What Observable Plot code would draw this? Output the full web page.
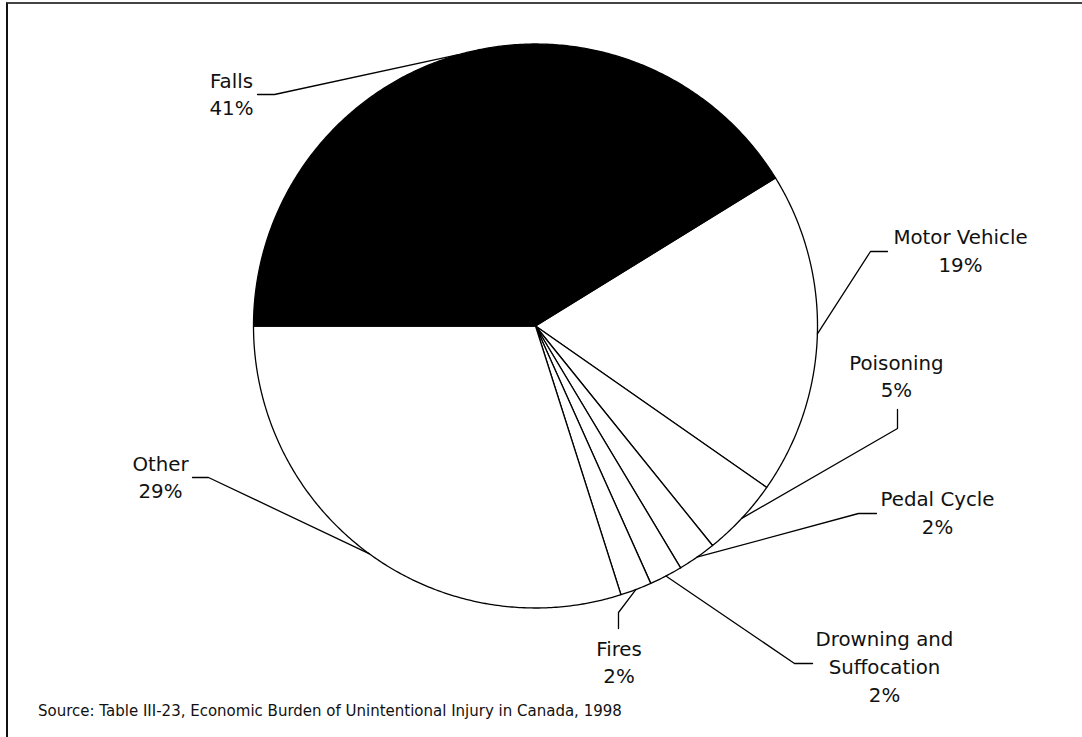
<!DOCTYPE html>
<html>
<head>
<meta charset="utf-8">
<script src="https://cdn.jsdelivr.net/npm/d3@7"></script>
<script src="https://cdn.jsdelivr.net/npm/@observablehq/plot@0.6"></script>
<style>
  html, body { margin: 0; padding: 0; background: #fff; }
  #wrap { position: relative; width: 1082px; height: 737px; overflow: hidden; background: #fff; }
  #chart { position: absolute; left: 0; top: 0; }
  #frame { position: absolute; left: 6px; top: 2px; width: 1100px; height: 760px; border-top: 2px solid #444; border-left: 2px solid #111; box-sizing: border-box; pointer-events: none; }
  #caption { position: absolute; left: 38px; top: 704px; font-family: "DejaVu Sans", Verdana, sans-serif; font-size: 15px; line-height: 1; color: #111; white-space: nowrap; }
</style>
</head>
<body>
<div id="wrap">
  <div id="chart"></div>
  <div id="frame"></div>
  <div id="caption">Source: Table III-23, Economic Burden of Unintentional Injury in Canada, 1998</div>
</div>
<script>
// ---- data ----
const categories = ["Falls", "Motor Vehicle", "Poisoning", "Pedal Cycle", "Drowning and\nSuffocation", "Fires", "Other"];
const shares = [41.2, 18.5, 4.5, 2.2, 1.9, 1.8, 29.9];
const percentLabels = ["41%", "19%", "5%", "2%", "2%", "2%", "29%"];

// ---- styles / layout (kept apart from data) ----
const sliceFills = ["black", "white", "white", "white", "white", "white", "white"];
// label anchor (center x, last baseline) in pie-radius units
const labelAt = [[-1.078, 0.7465], [1.507, 0.190], [1.280, -0.2535], [1.4255, -0.739], [1.2376, -1.3316], [0.2961, -1.2677], [-1.3298, -0.6117]];
// leader line start and elbow in pie-radius units
const leaderFrom = [[-0.9858, 0.8209], [1.2482, 0.2642], [1.2837, -0.2961], [1.2092, -0.6649], [0.9823, -1.1968], [0.2943, -1.0727], [-1.2163, -0.5372]];
const leaderElbow = [[-0.9255, 0.8209], [1.1879, 0.2642], [1.2837, -0.3635], [1.1454, -0.6649], [0.9184, -1.1968], [0.2943, -1.0160], [-1.1596, -0.5372]];

const rows = categories.map((name, i) => ({name, share: shares[i], pct: percentLabels[i], fill: sliceFills[i], i}));

const pie = d3.pie().sort(null).value(d => d.share).startAngle(-Math.PI / 2).endAngle(1.5 * Math.PI);
const arcs = pie(rows);

const polys = [];
const leaders = [];
const labels = [];
for (const a of arcs) {
  const d = a.data;
  const n = Math.max(2, Math.ceil((a.endAngle - a.startAngle) / (Math.PI / 360)));
  polys.push({name: d.name, fill: d.fill, x: 0, y: 0});
  for (let k = 0; k <= n; k++) {
    const t = a.startAngle + (a.endAngle - a.startAngle) * k / n;
    polys.push({name: d.name, fill: d.fill, x: Math.sin(t), y: Math.cos(t)});
  }
  const mid = (a.startAngle + a.endAngle) / 2;
  leaders.push({name: d.name, x: leaderFrom[d.i][0], y: leaderFrom[d.i][1]});
  leaders.push({name: d.name, x: leaderElbow[d.i][0], y: leaderElbow[d.i][1]});
  leaders.push({name: d.name, x: Math.sin(mid), y: Math.cos(mid)});
  labels.push({text: d.name + "\n" + d.pct, x: labelAt[d.i][0], y: labelAt[d.i][1]});
}

const chart = Plot.plot({
  width: 1082,
  height: 737,
  margin: 0,
  style: {background: "transparent", fontFamily: "'DejaVu Sans', Verdana, sans-serif", fontSize: "19.8px", color: "#111"},
  x: {domain: [-1, 1], range: [253, 817], axis: null},
  y: {domain: [-1, 1], range: [607.5, 43.5], axis: null},
  marks: [
    Plot.line(polys.filter(p => p.fill === "white"), {x: "x", y: "y", z: "name", fill: "white", stroke: "black", strokeWidth: 1.3, curve: "linear-closed", strokeLinejoin: "round"}),
    Plot.line(polys.filter(p => p.fill === "black"), {x: "x", y: "y", z: "name", fill: "black", stroke: "black", strokeWidth: 1.3, curve: "linear-closed", strokeLinejoin: "round"}),
    Plot.line(leaders, {x: "x", y: "y", z: "name", stroke: "black", strokeWidth: 1.3, fill: "none"}),
    Plot.text(labels, {x: "x", y: "y", text: "text", textAnchor: "middle", lineAnchor: "bottom", lineHeight: 1.414, fontSize: 19.8, fill: "#111"})
  ]
});
document.getElementById("chart").appendChild(chart);
</script>
</body>
</html>
